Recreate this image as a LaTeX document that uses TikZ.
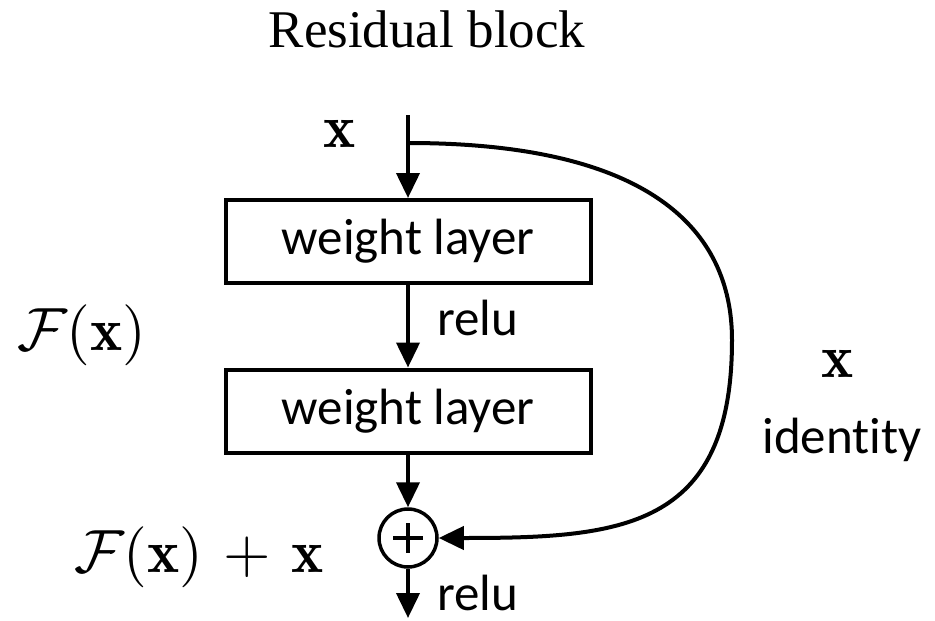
\documentclass[tikz,border=0pt]{standalone}
\usepackage{fontspec}
\newfontfamily\calib[Ligatures={NoCommon,NoContextual}]{Carlito}
\newfontfamily\tms{Liberation Serif}
\usetikzlibrary{arrows.meta}
\newcommand{\bigmath}[1]{\scalebox{6.1}{$#1$}}
\begin{document}
\begin{tikzpicture}[x=1pt,y=-1pt,line width=4pt,
  box/.style={draw, minimum width=365pt, minimum height=83pt, inner sep=0pt, font=\calib\fontsize{51}{60}\selectfont},
  lbl/.style={font=\calib\fontsize{51}{60}\selectfont, inner sep=0pt, anchor=base},
  mth/.style={inner sep=0pt, anchor=base},
  ttl/.style={font=\tms\fontsize{53}{60}\selectfont, inner sep=0pt, anchor=base},
  arr/.style={-{Triangle[length=25pt,width=23pt]}},
  sumnode/.style={circle, draw, line width=3.5pt, minimum size=58pt, inner sep=0pt}]
\useasboundingbox (0,0) rectangle (935,621);
\node[ttl] (title) at (427,47) {Residual block};
\node[box] (w1) at (408,241.5) {weight layer};
\node[box] (w2) at (408,411) {weight layer};
\node[sumnode] (plus) at (408,538) {};
\draw[line width=3.5pt] (plus.center) +(-15,0) -- +(15,0);
\draw[line width=3.5pt] (plus.center) +(0,-15) -- +(0,15);
\coordinate (top) at (408,115);
\coordinate (split) at (408,143);
\coordinate (out) at (408,618);
\draw[arr] (top) -- (w1);
\draw[arr] (w1) -- (w2);
\draw[arr] (w2) -- (plus);
\draw[arr] (plus) -- (out);
\draw[arr] (split) .. controls (650,143) and (732,230) .. (732,340) .. controls (732,530) and (620,538) .. (plus.east);
\node[mth] (xin) at (340,147) {\bigmath{\mathbf{x}}};
\node[mth, anchor=base west] (fx) at (15,350) {\bigmath{\mathcal{F}(\mathbf{x})}};
\node[mth, anchor=base west] (fxx) at (72,572) {\bigmath{\mathcal{F}(\mathbf{x})\mkern2mu+\mkern2mu\mathbf{x}}};
\node[lbl, anchor=base west] (relu1) at (435,335) {relu};
\node[lbl, anchor=base west] (relu2) at (435,610) {relu};
\node[mth] (xr) at (838,377) {\bigmath{\mathbf{x}}};
\node[lbl] (id) at (842,453) {identity};
\end{tikzpicture}
\end{document}
